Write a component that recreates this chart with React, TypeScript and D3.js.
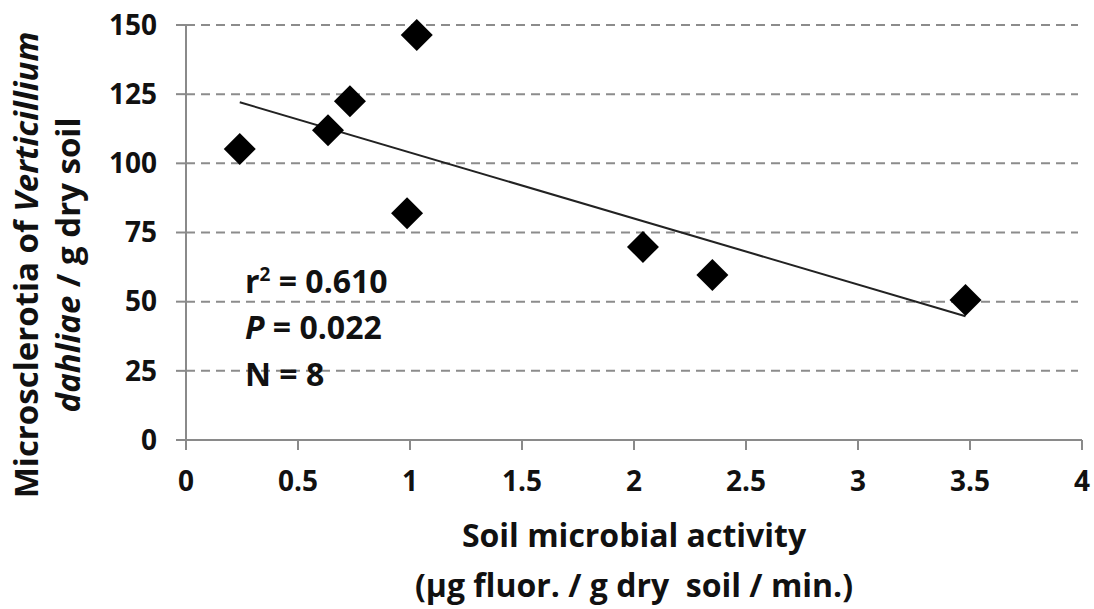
import React from "react";
import * as d3 from "d3";

// Soil microbial activity (µg fluor. / g dry soil / min.)
const activity = [0.24, 0.634, 0.732, 1.03, 0.987, 2.04, 2.35, 3.48];
// Microsclerotia of Verticillium dahliae per g dry soil
const microsclerotia = [105.2, 112, 122.4, 146.4, 82, 69.8, 59.6, 50.6];

const xTicks = [0, 0.5, 1, 1.5, 2, 2.5, 3, 3.5, 4];
const yTicks = [0, 25, 50, 75, 100, 125, 150];

const W = 1094;
const H = 609;
const FONT = "'Open Sans', sans-serif";

export default function App() {
  const x = d3.scaleLinear().domain([0, 4]).range([186, 1082]);
  const y = d3.scaleLinear().domain([0, 150]).range([440, 25]);

  // least-squares fit drawn over the observed x range
  const mx = d3.mean(activity)!;
  const my = d3.mean(microsclerotia)!;
  let sxy = 0;
  let sxx = 0;
  activity.forEach((v, i) => {
    sxy += (v - mx) * (microsclerotia[i] - my);
    sxx += (v - mx) * (v - mx);
  });
  const slope = sxy / sxx;
  const intercept = my - slope * mx;
  const [x0, x1] = d3.extent(activity) as [number, number];
  const fit = d3.line<number>()
    .x((v) => x(v))
    .y((v) => y(intercept + slope * v));

  const diamond = d3.symbol().type(d3.symbolSquare).size(512)()!;
  const axisColor = "#8a8a8a";

  return (
    <svg
      width={W}
      height={H}
      style={{ position: "absolute", left: 0, top: 0, background: "#fff" }}
      fontFamily={FONT}
    >
      {/* horizontal dashed gridlines */}
      {yTicks.filter((t) => t > 0).map((t) => (
        <line
          key={"g" + t}
          x1={x(0)}
          x2={1078}
          y1={y(t)}
          y2={y(t)}
          stroke="#8c8c8c"
          strokeWidth={2}
          strokeDasharray="9,6"
        />
      ))}

      {/* y axis */}
      <line x1={x(0)} x2={x(0)} y1={y(150)} y2={y(0) + 10} stroke={axisColor} strokeWidth={2} />
      {yTicks.map((t) => (
        <g key={"y" + t}>
          <line x1={x(0) - 10} x2={x(0)} y1={y(t)} y2={y(t)} stroke={axisColor} strokeWidth={2} />
          <text
            x={157}
            y={y(t)}
            dy="0.35em"
            textAnchor="end"
            fontSize={28}
            fontWeight="bold"
            fill="#111"
          >
            {t}
          </text>
        </g>
      ))}

      {/* x axis */}
      <line x1={x(0)} x2={x(4)} y1={y(0)} y2={y(0)} stroke={axisColor} strokeWidth={2} />
      {xTicks.map((t) => (
        <g key={"x" + t}>
          <line x1={x(t)} x2={x(t)} y1={y(0)} y2={y(0) + 10} stroke={axisColor} strokeWidth={2} />
          <text
            x={x(t)}
            y={491}
            textAnchor="middle"
            fontSize={28}
            fontWeight="bold"
            fill="#111"
          >
            {t}
          </text>
        </g>
      ))}

      {/* regression line */}
      <path d={fit([x0, x1])!} stroke="#222" strokeWidth={2} fill="none" />

      {/* observations */}
      {activity.map((v, i) => (
        <path
          key={"p" + i}
          d={diamond}
          transform={`translate(${x(v)},${y(microsclerotia[i])}) rotate(45)`}
          fill="#000"
        />
      ))}

      {/* fit statistics */}
      <g fontSize={32} fontWeight="bold" fill="#111">
        <text x={245} y={293}>
          r<tspan dy={-12} fontSize={19}>2</tspan>
          <tspan dy={12}> = 0.610</tspan>
        </text>
        <text x={245} y={339}>
          <tspan fontStyle="italic">P</tspan> = 0.022
        </text>
        <text x={245} y={386}>N = 8</text>
      </g>

      {/* axis titles */}
      <g fontWeight="bold" fill="#111">
        <g fontSize={32}>
          <text x={634} y={547} textAnchor="middle">Soil microbial activity</text>
          <text x={634} y={597} textAnchor="middle" style={{ whiteSpace: "pre" }}>
            (µg fluor. / g dry  soil / min.)
          </text>
        </g>
        <g fontSize={33}>
          <text transform="translate(38,265) rotate(-90)" textAnchor="middle">
            Microsclerotia of <tspan fontStyle="italic">Verticillium</tspan>
          </text>
          <text transform="translate(80,265) rotate(-90)" textAnchor="middle">
            <tspan fontStyle="italic">dahliae</tspan> / g dry soil
          </text>
        </g>
      </g>
    </svg>
  );
}
